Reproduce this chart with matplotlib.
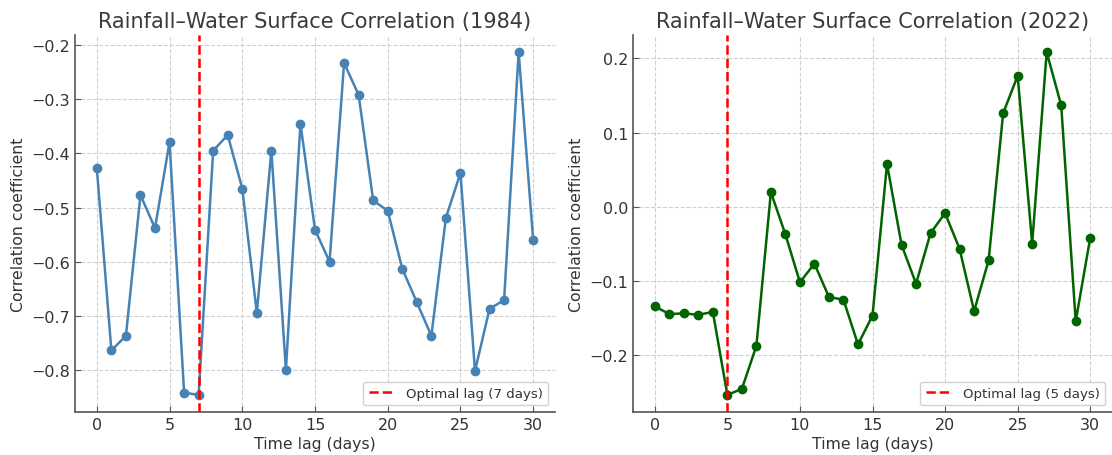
import matplotlib
matplotlib.use('Agg')
import matplotlib.pyplot as plt

lags = list(range(31))
corr_1984 = [-0.427, -0.764, -0.737, -0.477, -0.538, -0.379, -0.842, -0.846,
             -0.395, -0.366, -0.465, -0.695, -0.395, -0.800, -0.345, -0.541,
             -0.600, -0.233, -0.292, -0.487, -0.506, -0.613, -0.675, -0.737,
             -0.519, -0.436, -0.802, -0.687, -0.671, -0.213, -0.560]
corr_2022 = [-0.1345, -0.145, -0.144, -0.146, -0.142, -0.254, -0.246, -0.188,
             0.0195, -0.0375, -0.102, -0.077, -0.122, -0.1255, -0.186, -0.147,
             0.0577, -0.0515, -0.104, -0.0357, -0.0088, -0.057, -0.141, -0.0725,
             0.126, 0.1766, -0.050, 0.2085, 0.1367, -0.1548, -0.042]
best_lag_1984 = 7
best_lag_2022 = 5

text_col = '#333333'
plt.rcParams['font.family'] = 'DejaVu Sans'
plt.rcParams['text.color'] = text_col
plt.rcParams['axes.labelcolor'] = text_col
plt.rcParams['xtick.color'] = text_col
plt.rcParams['ytick.color'] = text_col

fig = plt.figure(figsize=(11.12, 4.56), dpi=100)
ax1 = fig.add_axes([75 / 1112, 43 / 456, 480 / 1112, 377 / 456])
ax2 = fig.add_axes([633 / 1112, 43 / 456, 479 / 1112, 377 / 456])

panels = [
    (ax1, corr_1984, best_lag_1984, 'steelblue', '1984'),
    (ax2, corr_2022, best_lag_2022, 'darkgreen', '2022'),
]
for ax, vals, lag, col, year in panels:
    ax.plot(lags, vals, marker='o', color=col, linewidth=1.8, markersize=6)
    ax.axvline(lag, color='red', linestyle='--', linewidth=1.8,
               label='Optimal lag (%d days)' % lag)
    ax.set_title('Rainfall\u2013Water Surface Correlation (%s)' % year,
                 fontsize=15, color='#3a3a3a', pad=6)
    ax.set_xlabel('Time lag (days)', fontsize=11.3, labelpad=3)
    ax.set_ylabel('Correlation coefficient', fontsize=11.3, labelpad=4)
    ax.grid(True, linestyle='--', color='#d0d0d0', linewidth=0.8)
    ax.tick_params(direction='in', labelsize=11.5, length=4, color='#555555')
    ax.set_xticks([0, 5, 10, 15, 20, 25, 30])
    for s in ['top', 'right']:
        ax.spines[s].set_visible(False)
    for s in ['left', 'bottom']:
        ax.spines[s].set_color('#555555')
        ax.spines[s].set_linewidth(1.2)
    leg = ax.legend(loc='lower right', fontsize=9.6, framealpha=0.9)
    for t in leg.get_texts():
        t.set_color(text_col)

fig.savefig('out.png', dpi=100)
